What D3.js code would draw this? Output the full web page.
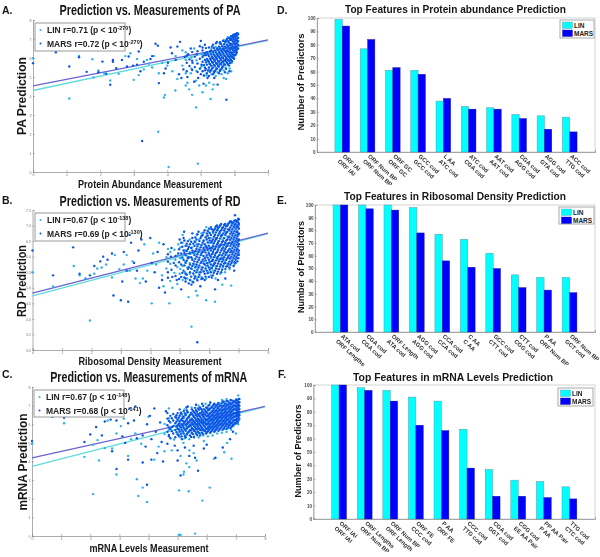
<!DOCTYPE html>
<html><head><meta charset="utf-8">
<script src="https://cdn.jsdelivr.net/npm/d3@7/dist/d3.min.js"></script>
<style>html,body{margin:0;padding:0;background:#fff}svg{display:block;filter:blur(0.35px)}</style>
</head><body><svg id="c" width="600" height="557"></svg>
<script>
// ---------- scatter A: sparse points [x,y], dense columns [x,[y...]]
const paLinSparse=[[4.04,.26],[4.91,.44],[3.73,2.12],[4.86,3.4],[1.08,3.87],[5.29,3.84],[3.9,3.92],[3.93,4.06],[4.74,4.06],[4.24,4.29],[2.3,4.82],[3,4.85],[0,5.99],[1.37,6.11],[1.77,5.94],[1.95,5.34],[1.8,4.97],[2.55,5.17],[2.75,6.1],[2.9,6.25],[2.12,5.2],[3.15,5.1],[3.3,5.4],[3.45,5.7],[3.6,6.1],[3.75,5.2],[3.85,5.75],[4.0,5.6],[4.15,5.3],[4.3,4.9],[4.55,4.55],[4.65,4.35],[4.85,4.8],[4.95,4.55],[5.05,4.2],[5.15,4.55],[5.25,4.7],[5.35,4.35],[5.38,4.6],[5.1,5.1],[4.7,5.2],[4.45,5.6],[4.25,6.1],[4.45,6.4],[4.8,6.5],[5.0,5.5],[5.75,4.9],[5.9,5.3],[5.68,4.95],[5.8,5.2],[4.6,4.7],[3.55,5.5],[3.1,5.95],[3.4,5.9]];
const paMarsSparse=[[3.25,1.63],[5.76,3.8],[2.3,4.59],[0.68,6.3],[0,5.73],[1.37,6.04],[1.08,5.55],[1.6,5.27],[2.07,5.81],[2.38,5.9],[2.38,5.8],[2.18,5.17],[2.48,5.46],[2.65,5.9],[2.85,6.08],[3.15,6.34],[1.95,5.25],[2.8,5.55],[2.98,5.6],[3.1,5.65],[3.2,5.3],[3.3,5.8],[3.5,5.95],[3.65,6.75],[3.72,6.65],[3.75,4.68],[3.9,5.2],[3.95,5.45],[4.02,5.75],[4.1,6.55],[4.14,6.25],[4.25,5.9],[4.35,5.15],[4.38,6.85],[4.42,4.95],[4.48,5.4],[4.52,6.05],[4.6,5.0],[4.7,6.5],[4.75,5.75],[4.8,4.75],[4.92,4.95],[5,6.9],[5.05,6.55],[5,5.15],[5.08,4.65],[5.12,5.35],[5.2,4.95],[5.15,6.15],[5.02,5.65],[4.88,6.2],[4.62,6.2],[5.85,5.3],[5.5,4.6],[5.4,4.95],[4.3,6.6],[3.55,6.1]];
const paLinCols=[[5.25,[5.4,5.7,6.3]],[5.32,[5.15,5.6,6.0,6.5]],[5.38,[5.3,5.8,6.2]],[5.44,[5.05,5.5,5.95,6.6]],[5.5,[5.25,5.7,6.1,6.5]],[5.56,[5.4,5.85,6.25,6.75]],[5.62,[5.15,5.6,6.05,6.45]],[5.68,[5.35,5.8,6.2,6.6,6.95]],[5.74,[5.5,5.95,6.35,6.8]],[5.8,[5.65,6.1,6.5,6.9,7.1]],[5.86,[5.45,5.85,6.25,6.7,7.05]],[5.92,[5.75,6.15,6.55,6.95,7.15]],[5.98,[6.05,6.4,6.75,7.1,7.25]],[6.04,[6.2,6.6,6.95,7.2]],[6.1,[6.5,6.85,7.3]],[4.55,[5.2,5.9,6.3]],[4.72,[5.45,6.02]],[4.87,[5.32,5.88]],[5.03,[5.58,6.2]],[5.17,[5.08,5.82]]];
const paMarsCols=[[5.05,[5.3,5.8,6.05,6.4]],[5.12,[5.5,5.9,6.25,6.7]],[5.18,[5.2,5.65,5.95,6.3]],[5.24,[5.05,5.5,5.8,6.1,6.55]],[5.3,[5.35,5.6,5.9,6.2,6.4]],[5.36,[5.15,5.5,5.75,6.0,6.3,6.7]],[5.42,[5.3,5.6,5.85,6.1,6.4]],[5.48,[5.45,5.7,5.95,6.2,6.5,6.85]],[5.54,[5.2,5.55,5.8,6.05,6.3,6.6]],[5.6,[5.4,5.7,5.9,6.15,6.4,6.75]],[5.66,[5.55,5.8,6.0,6.25,6.5,6.9]],[5.72,[5.25,5.65,5.9,6.1,6.35,6.6,6.85]],[5.78,[5.75,5.95,6.2,6.4,6.7,7.0]],[5.84,[5.6,5.85,6.05,6.3,6.5,6.8,7.05]],[5.9,[5.9,6.1,6.3,6.55,6.75,7.0,7.15]],[5.96,[6.0,6.2,6.4,6.6,6.85,7.05,7.2]],[6.02,[6.15,6.35,6.5,6.7,6.9,7.1,7.25]],[6.07,[6.3,6.45,6.6,6.8,6.95,7.15,7.3]],[6.11,[6.5,6.7,6.9,7.05,7.25]],
[4.58,[5.3,5.75,6.12]],[4.66,[5.58,5.93]],[4.74,[5.37,5.86,6.31]],[4.82,[5.52,6.07]],[4.9,[5.26,5.71,6.36]],[4.97,[5.44,5.96,6.62]],[5.09,[5.07,5.63,6.14]],[5.15,[5.43,5.77,6.52]],[5.21,[5.34,5.87,6.19]],[5.27,[5.28,5.69,5.98,6.34]],[5.33,[5.44,5.79,6.08,6.6]],[5.39,[5.23,5.64,5.93,6.18,6.53]],[5.45,[5.39,5.74,6.04,6.29,6.78]],[5.51,[5.59,5.84,6.13,6.43]],[5.57,[5.32,5.68,5.98,6.22,6.52,6.83]],[5.63,[5.48,5.78,6.03,6.33,6.62]],[5.69,[5.67,5.88,6.13,6.42,6.72]],[5.75,[5.43,5.82,6.03,6.28,6.54,6.92]],[5.81,[5.68,5.89,6.12,6.35,6.62,6.87]],[5.87,[5.74,5.97,6.18,6.43,6.68,6.95]],[5.93,[5.83,6.05,6.26,6.48,6.7,6.93,7.12]],[5.99,[5.96,6.14,6.33,6.53,6.78,6.98,7.17]],[6.05,[6.24,6.41,6.58,6.76,7.02,7.2]]];
const paLine={lin:[4.29,6.93],mars:[4.53,6.95]};
// ---------- scatter B
const rdLinSparse=[[5.4,3.75],[1.95,3.95],[0,5.5],[.7,5.04],[1.4,5.7],[1.6,5.4],[1.8,5.31],[2.2,5.62],[2.35,5.65],[2.5,5.75],[2.7,5.33],[2.95,5.6],[3.1,5.75],[3.2,6.05],[3.3,5.55],[3.5,5.3],[3.65,5.15],[3.75,5.3],[3.9,5.55],[4.05,4.5],[4.2,5.75],[4.3,6.45],[4.45,5.05],[4.6,6.25],[4.65,4.5],[4.75,5.0],[4.85,5.9],[4.95,6.4],[5.0,5.45],[5.3,4.7],[5.55,4.9],[5.6,4.75],[5.9,4.6],[6.2,4.55],[6.75,5.07],[6.45,5.1],[5.1,6.7],[5.2,6.2],[4.4,5.4],[2.1,5.45],[2.8,6.05],[3.4,5.85],[3.8,6.4],[4.1,6.1]];
const rdMarsSparse=[[5.6,3.25],[0,6.2],[.7,5.4],[1.1,6.7],[1.38,6.3],[1.6,5.45],[1.95,5.4],[2.1,5.7],[2.3,5.85],[2.55,5.9],[2.7,6.1],[2.75,4.75],[3.0,4.6],[3.05,5.2],[3.25,4.55],[3.1,6.15],[3.3,6.7],[3.35,6.45],[3.45,5.8],[3.55,5.55],[3.6,6.2],[3.7,6.55],[3.85,5.2],[4.0,6.6],[4.05,5.8],[4.25,6.15],[4.3,5.0],[4.4,5.25],[4.45,6.4],[4.5,4.85],[4.6,5.5],[4.7,6.0],[4.75,5.35],[4.8,5.8],[4.9,5.25],[4.95,6.1],[5.0,6.55],[5.05,4.95],[5.2,5.3],[5.15,6.8],[5.4,5.1],[5.7,5.05],[5.85,5.25],[6.2,4.95],[6.3,5.25],[6.55,5.3],[6.85,5.55],[6.9,5.8],[6.88,7.33],[4.15,5.5],[3.2,5.55],[2.4,6.0]];
const rdLinCols=[[5.02,[5.6,5.95,6.3]],[5.1,[5.25,5.7,6.05,6.45]],[5.18,[5.5,5.85,6.2]],[5.26,[5.3,5.65,6.0,6.35]],[5.34,[5.45,5.8,6.15,6.55]],[5.42,[5.2,5.6,5.95,6.3]],[5.5,[5.4,5.75,6.1,6.5]],[5.58,[5.3,5.7,6.0,6.4,6.7]],[5.66,[5.5,5.9,6.2,6.55]],[5.74,[5.35,5.65,6.05,6.35,6.75]],[5.82,[5.55,5.85,6.2,6.5]],[5.9,[5.3,5.7,6.0,6.35,6.65,6.95]],[5.98,[5.5,5.8,6.15,6.45,6.8]],[6.06,[5.4,5.65,5.95,6.3,6.6,6.9]],[6.14,[5.55,5.85,6.1,6.45,6.75]],[6.22,[5.3,5.7,6.0,6.3,6.6,6.95]],[6.3,[5.6,5.9,6.2,6.5,6.85]],[6.38,[5.45,5.75,6.05,6.35,6.7,7.0]],[6.46,[5.65,5.95,6.25,6.55,6.9]],[6.54,[5.5,5.85,6.15,6.45,6.8,7.05]],[6.62,[5.75,6.05,6.35,6.65,7.0]],[6.7,[5.6,5.95,6.25,6.55,6.9,7.1]],[6.78,[5.85,6.15,6.45,6.75,7.05]],[6.86,[5.75,6.05,6.35,6.65,6.95,7.15]],[6.94,[5.95,6.25,6.55,6.85,7.15]],[7,[6.1,6.4,6.7,7.0,7.2]],[4.55,[5.62,5.98]],[4.68,[5.22,5.77,6.15]],[4.82,[5.48,6.22]],[4.92,[5.12,5.67,6.03]]];
const rdMarsCols=[[5.05,[5.35,5.75,6.1,6.45]],[5.13,[5.55,5.9,6.2,6.6]],[5.2,[5.2,5.45,5.8,6.05,6.35]],[5.28,[5.6,5.95,6.25,6.5]],[5.35,[5.25,5.5,5.75,6.1,6.4]],[5.43,[5.7,5.9,6.2,6.6,6.75]],[5.5,[5.3,5.55,5.85,6.05,6.35]],[5.57,[5.5,5.75,6.0,6.25,6.55]],[5.64,[5.35,5.65,5.9,6.15,6.4,6.8]],[5.71,[5.5,5.8,6.05,6.3,6.6]],[5.78,[5.3,5.65,5.9,6.15,6.45,6.7]],[5.85,[5.45,5.75,5.95,6.2,6.4,6.85]],[5.92,[5.55,5.8,6.05,6.3,6.55,6.75]],[5.99,[5.35,5.65,5.9,6.1,6.35,6.6,6.9]],[6.06,[5.5,5.75,6.0,6.2,6.45,6.7,6.95]],[6.13,[5.4,5.7,5.9,6.15,6.35,6.55,6.8]],[6.2,[5.55,5.8,6.05,6.25,6.5,6.7,6.9]],[6.27,[5.45,5.7,5.95,6.15,6.4,6.6,6.85,7.0]],[6.34,[5.6,5.85,6.05,6.3,6.5,6.75,6.95]],[6.41,[5.5,5.75,5.95,6.2,6.4,6.65,6.85,7.05]],[6.48,[5.7,5.9,6.1,6.3,6.5,6.75,6.95]],[6.55,[5.6,5.8,6.05,6.25,6.45,6.7,6.9,7.05]],[6.62,[5.7,5.95,6.15,6.35,6.55,6.8,7.0]],[6.69,[5.65,5.85,6.05,6.25,6.45,6.65,6.85,7.1]],[6.76,[5.8,6.0,6.2,6.4,6.6,6.8,7.0,7.12]],[6.83,[5.7,5.95,6.15,6.35,6.55,6.75,6.95,7.1]],[6.9,[5.9,6.1,6.3,6.5,6.7,6.9,7.05,7.17]],[6.96,[5.85,6.05,6.25,6.45,6.65,6.8,7.0,7.15]],[7.01,[6.05,6.2,6.4,6.55,6.75,6.9,7.05,7.2]],
[4.6,[5.32,5.84,6.08]],[4.72,[5.58,6.28]],[4.86,[5.38,5.72,6.02]],[4.98,[5.28,5.82,6.24]],[5.09,[5.48,5.97,6.32]],[5.16,[5.33,5.72,6.12,6.52]],[5.24,[5.42,5.87,6.18,6.42]],[5.31,[5.14,5.66,5.98,6.31]],[5.39,[5.36,5.62,5.98,6.28,6.48]],[5.46,[5.18,5.46,5.77,6.13,6.42]],[5.53,[5.36,5.66,5.93,6.18,6.47,6.62]],[5.6,[5.24,5.58,5.83,6.08,6.33,6.72]],[5.67,[5.42,5.72,5.97,6.23,6.5]],[5.74,[5.28,5.58,5.84,6.12,6.38,6.66]],[5.81,[5.52,5.78,6.02,6.28,6.52,6.78]],[5.88,[5.36,5.62,5.88,6.13,6.33,6.62]],[5.95,[5.47,5.72,5.97,6.22,6.46,6.68,6.83]],[6.02,[5.58,5.83,6.04,6.27,6.52,6.76]],[6.09,[5.33,5.63,5.86,6.08,6.28,6.5,6.88]],[6.16,[5.48,5.76,5.98,6.22,6.43,6.64,6.86]],[6.23,[5.62,5.88,6.12,6.33,6.56,6.78,6.97]],[6.3,[5.52,5.78,6.0,6.23,6.44,6.68,6.92]],[6.37,[5.68,5.92,6.13,6.36,6.58,6.8,7.0]],[6.44,[5.58,5.84,6.04,6.26,6.47,6.7,6.92]],[6.51,[5.78,5.98,6.18,6.38,6.6,6.84,7.02]],[6.58,[5.68,5.9,6.12,6.32,6.52,6.76,6.98]],[6.65,[5.78,6.0,6.2,6.42,6.62,6.88,7.06]],[6.72,[5.74,5.94,6.14,6.34,6.54,6.74,6.94,7.14]],[6.79,[5.88,6.08,6.28,6.48,6.68,6.88,7.08]],[6.86,[5.82,6.02,6.22,6.42,6.62,6.82,7.02,7.16]],[6.93,[5.98,6.18,6.38,6.58,6.78,6.96,7.12]],[6.99,[5.95,6.13,6.33,6.52,6.72,6.94,7.1,7.22]]];
const rdLine={lin:[4.74,6.74],mars:[4.83,6.76]};
// ---------- scatter C
const mrLinSparse=[[5.05,.07],[5.1,.05],[5.6,.13],[5.85,1.9],[3.95,1.83],[3.65,2.15],[2.1,2.25],[3.8,2.6],[5.38,2.4],[6.1,2.6],[5.05,2.45],[3.6,3.05],[2.9,3.3],[5.2,3.3],[5.22,3.45],[5.4,3.7],[5.3,3.9],[5.65,4.05],[2.3,4.05],[1.8,4.25],[6.85,4.15],[6.25,4.15],[0,4.95],[2.1,4.9],[2.25,5.15],[2.5,4.72],[2.75,4.7],[2.9,5.5],[3.3,4.3],[3.55,5.5],[4.0,6.4],[4.2,4.1],[4.35,4.8],[4.55,4.55],[4.8,4.6],[5.1,4.3],[5.4,4.6],[5.55,4.45],[5.2,5.0],[3.4,5.2],[3.75,4.95],[1.1,6.05],[3.15,6.3],[.7,6.4],[4.7,6.85],[6.6,4.5],[6.7,5.0],[5.9,5.1],[2.6,6.2],[3.05,5.9]];
const mrMarsSparse=[[3.95,2.75],[2.9,3.6],[5.7,3.5],[5.1,3.25],[3.8,3.95],[3.3,4.1],[4.1,4.1],[4.5,4.0],[5.0,4.05],[6.3,4.2],[5.6,4.2],[0,5.1],[1.8,5.05],[2,5.45],[2.2,5.85],[2.4,5.4],[2.5,6.15],[2.7,6.25],[2.75,4.55],[2.9,6.2],[3.1,5.35],[3.2,5.0],[3.3,6.05],[3.35,6.85],[3.5,6.2],[3.55,6.95],[3.6,5.25],[3.8,5.4],[3.9,4.8],[3.95,6.0],[4.05,6.45],[4.1,5.2],[4.25,5.6],[4.3,4.45],[4.4,6.1],[4.45,5.05],[4.6,6.7],[4.65,4.95],[4.7,5.35],[4.8,5.85],[4.9,4.85],[4.95,6.35],[5,4.6],[5.15,5.2],[5.25,4.75],[5.4,4.3],[5.55,4.85],[5.9,4.7],[6,4.9],[6.55,4.75],[6.8,5.2],[6.9,5.6],[5.3,6.9],[.7,6.4],[1.1,6.35],[4.2,6.85]];
const mrLinCols=[[5.0,[5.5,5.8,6.2]],[5.08,[5.3,5.65,6.05,6.5]],[5.16,[5.55,5.9,6.3]],[5.24,[5.25,5.7,6.0,6.45,6.8]],[5.32,[5.45,5.85,6.2,6.6]],[5.4,[5.2,5.6,5.95,6.35]],[5.48,[5.5,5.8,6.15,6.55,6.9]],[5.56,[5.35,5.7,6.05,6.4]],[5.64,[5.55,5.9,6.25,6.65]],[5.72,[5.3,5.75,6.1,6.5,7.0]],[5.8,[5.5,5.85,6.2,6.6]],[5.88,[5.4,5.7,6.05,6.4,6.8]],[5.96,[5.6,5.95,6.3,6.7,7.1]],[6.04,[5.35,5.75,6.1,6.45,6.85]],[6.12,[5.55,5.9,6.25,6.6,7.2]],[6.2,[5.4,5.8,6.15,6.5,6.9]],[6.28,[5.65,6.0,6.35,6.7,7.05]],[6.36,[5.5,5.85,6.2,6.55,6.95]],[6.44,[5.7,6.05,6.4,6.75,7.1]],[6.52,[5.55,5.9,6.25,6.6,7.0,7.3]],[6.6,[5.75,6.1,6.45,6.8,7.15]],[6.68,[5.6,5.95,6.3,6.65,7.0,7.35]],[6.76,[5.8,6.15,6.5,6.85,7.2]],[6.84,[5.7,6.05,6.4,6.75,7.1]],[6.92,[5.9,6.2,6.55,6.9,7.25]],[7,[5.5,6.1,6.45,6.8,7.15,7.35]],[7.08,[6.0,6.35,6.7,7.05,7.55]],[4.55,[5.48,6.02]],[4.7,[5.7,6.32]],[4.88,[5.18,5.92]]];
const mrMarsCols=[[4.65,[5.6,5.95,6.3,6.6]],[4.75,[5.25,5.75,6.1,6.45]],[4.85,[5.5,5.9,6.2,6.55]],[4.92,[5.3,5.7,6.05,6.4]],[5,[5.45,5.75,5.95,6.25,6.6]],[5.07,[5.6,5.9,6.15,6.45,6.8]],[5.14,[5.35,5.7,6.0,6.3,6.55]],[5.21,[5.5,5.8,6.05,6.35,6.7]],[5.28,[5.3,5.65,5.95,6.2,6.5]],[5.35,[5.55,5.85,6.1,6.35,6.65,6.95]],[5.42,[5.4,5.7,5.95,6.2,6.5]],[5.49,[5.55,5.8,6.05,6.3,6.55,6.8]],[5.56,[5.3,5.65,5.9,6.15,6.4,6.65]],[5.63,[5.5,5.75,6.0,6.25,6.5,6.75,7.05]],[5.7,[5.6,5.85,6.05,6.3,6.55,6.85]],[5.77,[5.4,5.7,5.95,6.15,6.4,6.6,6.9]],[5.84,[5.55,5.8,6.05,6.25,6.5,6.7,7.1]],[5.91,[5.65,5.9,6.1,6.35,6.55,6.8]],[5.98,[5.5,5.75,6.0,6.2,6.45,6.65,6.9]],[6.05,[5.65,5.85,6.05,6.3,6.5,6.75,7.0]],[6.12,[5.55,5.8,6.0,6.2,6.4,6.6,6.85,7.15]],[6.19,[5.7,5.9,6.1,6.3,6.5,6.7,6.95]],[6.26,[5.6,5.85,6.05,6.25,6.45,6.65,6.85,7.1]],[6.33,[5.75,5.95,6.15,6.35,6.55,6.75,7.0]],[6.4,[5.65,5.9,6.1,6.3,6.5,6.7,6.9,7.15]],[6.47,[5.8,6.0,6.2,6.4,6.6,6.8,7.0]],[6.54,[5.7,5.95,6.15,6.35,6.55,6.75,6.95,7.2]],[6.61,[5.85,6.05,6.25,6.45,6.65,6.85,7.05]],[6.68,[5.75,6.0,6.2,6.4,6.6,6.8,7.0,7.25]],[6.75,[5.9,6.1,6.3,6.5,6.7,6.9,7.1]],[6.82,[5.8,6.05,6.25,6.45,6.65,6.85,7.05,7.3]],[6.89,[5.95,6.15,6.35,6.55,6.75,6.95,7.15]],[6.96,[6.05,6.25,6.4,6.6,6.8,7.0,7.2]],[7.03,[6.15,6.3,6.5,6.65,6.85,7.0,7.15,7.3]],[7.09,[6.2,6.4,6.55,6.7,6.9,7.05,7.2,7.35]],
[4.7,[5.42,5.83,6.18]],[4.8,[5.63,6.32]],[4.96,[5.58,5.87,6.14,6.48]],[5.04,[5.38,5.72,6.03,6.35]],[5.11,[5.47,5.83,6.22,6.62]],[5.18,[5.62,5.92,6.18,6.42]],[5.25,[5.38,5.74,6.13,6.58]],[5.32,[5.48,5.77,6.02,6.28,6.74]],[5.39,[5.62,5.87,6.13,6.42]],[5.46,[5.32,5.68,5.93,6.24,6.62]],[5.53,[5.47,5.74,5.98,6.22,6.47,6.72]],[5.6,[5.62,5.83,6.08,6.33,6.58,6.88]],[5.67,[5.42,5.72,5.95,6.18,6.42,6.68]],[5.74,[5.53,5.78,6.02,6.24,6.47,6.78]],[5.81,[5.68,5.88,6.12,6.33,6.58,6.82]],[5.88,[5.47,5.72,5.97,6.18,6.43,6.63,6.98]],[5.95,[5.63,5.83,6.08,6.28,6.52,6.74]],[6.02,[5.58,5.78,5.98,6.22,6.43,6.62,6.86]],[6.09,[5.72,5.92,6.14,6.36,6.54,6.78,7.03]],[6.16,[5.63,5.83,6.04,6.24,6.46,6.66,6.9]],[6.23,[5.76,5.97,6.18,6.38,6.58,6.78,7.03]],[6.3,[5.68,5.88,6.1,6.3,6.48,6.7,6.94]],[6.37,[5.8,6.02,6.22,6.42,6.62,6.84,7.08]],[6.44,[5.74,5.96,6.16,6.36,6.56,6.78,7.0]],[6.51,[5.86,6.06,6.28,6.48,6.68,6.88,7.12]],[6.58,[5.78,5.98,6.18,6.38,6.58,6.78,6.98,7.22]],[6.65,[5.9,6.12,6.32,6.52,6.72,6.92,7.12]],[6.72,[5.82,6.02,6.24,6.44,6.64,6.84,7.04,7.24]],[6.79,[5.96,6.16,6.36,6.56,6.76,6.96,7.16]],[6.86,[5.88,6.08,6.3,6.5,6.7,6.9,7.1,7.28]],[6.93,[6.0,6.2,6.42,6.62,6.82,7.02,7.22]],[7,[6.04,6.22,6.42,6.58,6.76,6.94,7.12,7.28]],[7.06,[6.1,6.28,6.46,6.62,6.78,6.96,7.12,7.26]],[7.12,[6.3,6.48,6.64,6.82,7.0,7.18,7.36]]];
const mrLine={lin:[3.74,6.94],mars:[4.2,6.96]};
// ---------- bars
const topLabelsD=["ORF IAI","ORF Num BP","ORF GC","GCC cod","L AA","ATC cod","AAT cod","CGA cod","AGG cod","ACC cod"];
const subLabelsD=["ORF IAI","ORF Num BP","ORF GC","GCC cod","ATC cod","CGA cod","AAT cod","AGG cod","GTA cod","TTG cod"];
const linD=[99,77,61,61,38,34,33,28,27,26];
const marsD=[94,84,63,58,40,32,32,25,17,15];
const topLabelsE=["ATA cod","CGA cod","ORF Length","AGG cod","CCA cod","C AA","GCC cod","CTT cod","P AA","ORF Num BP"];
const subLabelsE=["ORF Lengths","CGA cod","ATA cod","AGG cod","CCA cod","C AA","CTT cod","CGG cod","ORF Num BP","GCT cod"];
const linE=[100,100,100,98,77,73,62,45,43,43];
const marsE=[100,97,96,78,56,51,50,35,33,31];
const topLabelsF=["ORF IAI","ORF Lengths","ORF Num BP","ORF FE","P AA","CCC cod","CGA cod","CGG cod","PP AA Pair","TTG cod"];
const subLabelsF=["ORF IAI","ORF Num BP","ORF Length","CCC cod","ORF FE","TTG cod","GGT cod","EE AA Pair","P AA","CTC cod"];
const linF=[100,98,96,91,88,67,37,29,28,24];
const marsF=[100,96,88,70,66,38,17,17,16,15];
const seriesNames=["LIN","MARS"];
const C={lin:"#2db2ea",mars:"#0a55e6",linLine:"#62dcdc",marsLine:"#6a62d2",cy:"#00ffff",bl:"#0000ff",edge:"#5f9aa8",ax:"#8a8a8a",box:"#c8c8c8"};
const NARROW='"Liberation Sans Narrow","Liberation Sans",Arial,sans-serif', SANS='"Liberation Sans",Arial,sans-serif';
const svg=d3.select("#c");
function txt(s,x,y,o={}){
  const t=svg.append("text").attr("x",x).attr("y",y).text(s)
   .attr("font-family",o.ff||NARROW).attr("font-weight",o.w||"bold").attr("font-size",o.fs||15)
   .attr("text-anchor",o.a||"middle").attr("fill",o.c||"#161616");
  if(o.len)t.attr("textLength",o.len).attr("lengthAdjust","spacingAndGlyphs");
  if(o.rot!==undefined)t.attr("transform",`rotate(${o.rot},${x},${y})`);
  return t;
}
const expand=(sp,cols)=>sp.concat(cols.flatMap(([x,ys])=>ys.map(y=>[x,y])));
function axisStyle(g){g.selectAll("path").attr("stroke",C.ax).attr("stroke-width",.7);g.selectAll("line").attr("stroke",C.ax).attr("stroke-width",.6);
  g.selectAll("text").attr("fill","#777").attr("font-size",3.6).attr("font-family",SANS);}
function scatter(p){
  const x=d3.scaleLinear().domain(p.xd).range([p.l,p.r]),y=d3.scaleLinear().domain(p.yd).range([p.b,p.t]);
  const gx=svg.append("g").attr("transform",`translate(0,${p.b})`).call(d3.axisBottom(x).tickValues(d3.range(p.xd[0],p.xd[1]+.01,1)).tickSize(-2).tickPadding(1.5).tickFormat(d3.format("d")));
  const gy=svg.append("g").attr("transform",`translate(${p.l},0)`).call(d3.axisLeft(y).tickValues(d3.range(p.yd[0],p.yd[1]+.01,p.ys)).tickSize(-2).tickPadding(1.5).tickFormat(p.ys<1?d3.format(".1f"):d3.format("d")));
  axisStyle(gx);axisStyle(gy);
  const ln=(k,col)=>svg.append("line").attr("x1",x(p.xd[0])).attr("x2",x(p.xd[1])).attr("y1",y(p.line[k][0])).attr("y2",y(p.line[k][1])).attr("stroke",col).attr("stroke-width",1.3);
  ln("lin",C.linLine);ln("mars",C.marsLine);
  const dots=(d,c)=>svg.append("g").selectAll("circle").data(d).join("circle").attr("cx",v=>x(v[0])).attr("cy",v=>y(v[1])).attr("r",1.2).attr("fill",c);
  dots(p.lin,C.lin);dots(p.mars,C.mars);
  const L=p.leg;
  svg.append("rect").attr("x",L.x).attr("y",L.y).attr("width",L.w).attr("height",L.h).attr("fill","#fff").attr("stroke","#9a9a9a").attr("stroke-width",1);
  [[p.t1,p.e1,C.lin],[p.t2,p.e2,C.mars]].forEach(([s,e,c],i)=>{
    const ty=L.y+10+i*13.5;
    svg.append("circle").attr("cx",L.x+5.5).attr("cy",ty-3).attr("r",1).attr("fill",c);
    const t=txt(s,L.x+12,ty,{a:"start",fs:8.5,c:"#222"});
    t.append("tspan").text(e).attr("dy",-3).attr("font-size",5.5);
    t.append("tspan").text(")").attr("dy",3);
  });
}
scatter({xd:[0,7],yd:[0,8],ys:1,l:33,r:268,t:20,b:172,lin:expand(paLinSparse,paLinCols),mars:expand(paMarsSparse,paMarsCols),line:paLine,
  leg:{x:35,y:23,w:90,h:28},t1:"LIN r=0.71 (p < 10",e1:"-270",t2:"MARS r=0.72 (p < 10",e2:"-270"});
scatter({xd:[0,8],yd:[3,7.5],ys:.5,l:32.5,r:268,t:210,b:350,lin:expand(rdLinSparse,rdLinCols),mars:expand(rdMarsSparse,rdMarsCols),line:rdLine,
  leg:{x:35,y:213,w:90,h:28},t1:"LIN r=0.67 (p < 10",e1:"-138",t2:"MARS r=0.69 (p < 10",e2:"-130"});
scatter({xd:[0,8],yd:[0,8],ys:1,l:32,r:265,t:387,b:536,lin:expand(mrLinSparse,mrLinCols),mars:expand(mrMarsSparse,mrMarsCols),line:mrLine,
  leg:{x:34,y:390,w:90,h:27},t1:"LIN r=0.67 (p < 10",e1:"-148",t2:"MARS r=0.68 (p < 10",e2:"-141"});
function bars(p){
  const x=d3.scaleLinear().domain([0,11]).range([p.l,p.r]),y=d3.scaleLinear().domain([0,100]).range([p.b,p.t]);
  svg.append("rect").attr("x",p.l).attr("y",p.t).attr("width",p.r-p.l).attr("height",p.b-p.t).attr("fill","none").attr("stroke",C.box).attr("stroke-width",.8);
  const gy=svg.append("g").attr("transform",`translate(${p.l},0)`).call(d3.axisLeft(y).tickValues(d3.range(0,101,10)).tickSize(-2).tickPadding(1.5));
  axisStyle(gy);gy.selectAll("text").attr("font-size",4.6).attr("fill","#444").attr("font-weight","bold");
  const gx=svg.append("g").attr("transform",`translate(0,${p.b})`).call(d3.axisBottom(x).tickValues(d3.range(1,11)).tickSize(-2).tickFormat(""));
  axisStyle(gx);
  const bw=x(1)-x(0), w=bw*.29;
  p.lin.forEach((v,i)=>{
    svg.append("rect").attr("x",x(i+1)-w).attr("y",y(v)).attr("width",w).attr("height",y(0)-y(v)).attr("fill",C.cy).attr("stroke",C.edge).attr("stroke-width",.5);
    svg.append("rect").attr("x",x(i+1)).attr("y",y(p.mars[i])).attr("width",w).attr("height",y(0)-y(p.mars[i])).attr("fill",C.bl).attr("stroke","#1a1a90").attr("stroke-width",.4);
    const X=x(i+1),Y=p.b+2;
    txt(p.top[i],X,Y+3,{a:"start",fs:5.9,ff:SANS,rot:42,c:"#333"});
    txt(p.sub[i],X-5,Y+8,{a:"start",fs:5.9,ff:SANS,rot:42,c:"#333"});
  });
  const L=p.leg;
  svg.append("rect").attr("x",L.x).attr("y",L.y).attr("width",L.w).attr("height",L.h).attr("fill","#fff").attr("stroke","#aaa").attr("stroke-width",1);
  seriesNames.forEach((s,i)=>{
    svg.append("rect").attr("x",L.x+2.5).attr("y",L.y+2+i*8).attr("width",10).attr("height",6.5).attr("fill",i?C.bl:C.cy).attr("stroke",i?"#1a1a90":C.edge).attr("stroke-width",.4);
    txt(s,L.x+14,L.y+8+i*8,{a:"start",fs:6.5,ff:SANS,c:"#222"});
  });
}
bars({l:317,r:595,t:18,b:152,lin:linD,mars:marsD,top:topLabelsD,sub:subLabelsD,leg:{x:560,y:20,w:34,h:18}});
bars({l:315,r:595,t:205,b:332,lin:linE,mars:marsE,top:topLabelsE,sub:subLabelsE,leg:{x:559,y:207,w:35,h:17}});
bars({l:313.5,r:595,t:385,b:519,lin:linF,mars:marsF,top:topLabelsF,sub:subLabelsF,leg:{x:558,y:388,w:35,h:18}});
// titles
txt("Prediction vs. Measurements of PA",150,15,{len:181,fs:15});
txt("Prediction vs. Measurements of RD",150,206,{len:181,fs:15});
txt("Prediction vs. Measurements of mRNA",148.7,382,{len:197,fs:15});
txt("Top Features in Protein abundance Prediction",455.5,12.5,{len:221,fs:11.5,ff:SANS});
txt("Top Features in Ribosomal Density Prediction",455,199.5,{len:222,fs:11.5,ff:SANS});
txt("Top Features in mRNA Levels Prediction",453,380.5,{len:200,fs:11.5,ff:SANS});
txt("Protein Abundance Measurement",150,188,{len:144,fs:11});
txt("Ribosomal Density Measurement",150,365,{len:143,fs:11});
txt("mRNA Levels Measurement",149,552,{len:119,fs:11});
txt("PA Prediction",26,96,{len:78,fs:12,ff:SANS,rot:-90});
txt("RD Prediction",25.5,281,{len:72,fs:12,ff:SANS,rot:-90});
txt("mRNA Prediction",27,462,{len:97,fs:12,ff:SANS,rot:-90});
txt("Number of Predictors",304,82,{len:97,fs:9.5,ff:SANS,rot:-90});
txt("Number of Predictors",304,267,{len:92,fs:9.5,ff:SANS,rot:-90});
txt("Number of Predictors",301,451,{len:93,fs:9.5,ff:SANS,rot:-90});
[["A.",2,14],["B.",2,204],["C.",2,378],["D.",277,14],["E.",277,204],["F.",278,378]].forEach(([s,x,y])=>txt(s,x,y,{a:"start",fs:10.5,ff:SANS}));
</script></body></html>
